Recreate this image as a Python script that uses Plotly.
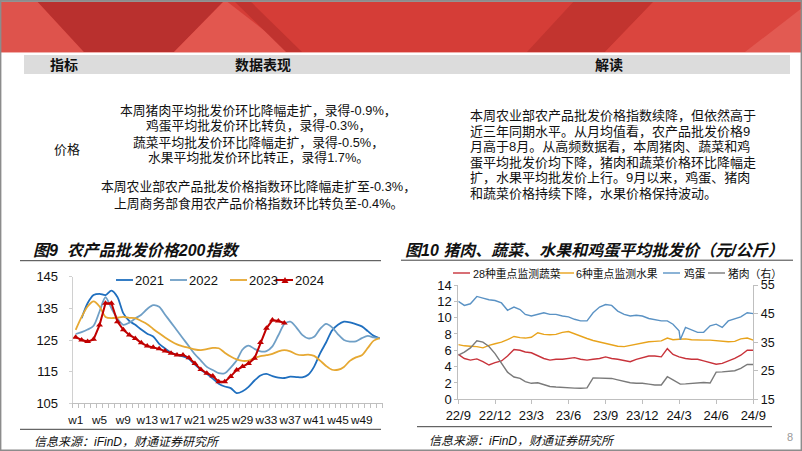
import plotly.graph_objects as go

W, H = 802, 451
CJK = "Liberation Sans, Noto Sans CJK SC"
ARIAL = "Liberation Sans, Arial, sans-serif"

# ---------------- Chart 9 data: weekly index ----------------
weeks = list(range(1, 53))
week_ticks = [1, 5, 9, 13, 17, 21, 25, 29, 33, 37, 41, 45, 49]
week_labels = ["w1", "w5", "w9", "w13", "w17", "w21", "w25", "w29", "w33", "w37", "w41", "w45", "w49"]
idx_2021 = [None, 131.9, 136.6, 139.2, 139.6, 139.2, 140.6, 138.6, 133.4, 131.0,
            129.8, 128.3, 127.0, 126.1, 123.8, 122.3, 121.0, 120.3, 119.8, 119.0,
            117.2, 115.6, 114.3, 112.8, 111.2, 110.3, 109.8, 108.2, 108.8, 110.2,
            112.2, 113.8, 114.3, 113.6, 113.1, 113.0, 113.4, 113.3, 113.2, 114.0,
            116.6, 120.8, 124.2, 128.0, 129.8, 130.8, 130.6, 130.0, 129.3, 127.8,
            126.3, 125.5]
idx_2022 = [126.9, 127.5, 128.3, 129.5, 134.0, 138.5, 135.0, 131.8, 129.8, 130.5,
            131.8, 133.0, 134.8, 136.0, 135.5, 133.0, 130.5, 128.0, 125.5, 123.0,
            120.5, 118.5, 116.5, 115.5, 114.5, 114.5, 116.3, 118.5, 122.0, 123.2,
            122.2, 121.4, 121.5, 123.0, 126.5, 130.0, 130.8, 129.0, 126.6, 125.5,
            126.0, 128.5, 130.1, 129.0, 126.8, 125.0, 124.5, 124.6, 125.6, 126.3,
            125.8, 125.5]
idx_2023 = [128.2, 132.3, 135.6, 137.2, 135.6, 132.3, 131.9, 132.1, 132.3, 132.0,
            131.9, 131.0, 130.0, 128.5, 127.1, 125.8, 124.6, 123.6, 123.0, 122.5,
            122.0, 121.8, 122.1, 122.5, 122.4, 121.0, 119.8, 118.9, 118.4, 118.5,
            119.3, 119.9, 120.2, 120.6, 121.4, 121.8, 121.4, 120.5, 120.2, 120.4,
            120.0, 118.5, 116.8, 115.6, 115.6, 116.5, 118.4, 119.5, 120.2, 122.5,
            124.8, 125.6]
idx_2024 = [125.9, 125.0, 124.5, 125.2, 129.7, 136.6, 136.6, 130.8, 128.2, 126.6,
            125.5, 124.1, 123.1, 122.7, 122.2, 121.5, 120.8, 120.3, 120.3, 119.4,
            117.6, 115.7, 114.5, 113.6, 111.8, 111.8, 113.5, 115.5, 116.6, 117.6,
            119.2, 124.2, 128.7, 131.3, 131.0, 130.4]
idx_ticks = [105, 115, 125, 135, 145]

# ---------------- Chart 10 data: average wholesale prices ----------------
dates = ["2022-09-20", "2022-10-05", "2022-10-20", "2022-11-05", "2022-11-20",
         "2022-12-05", "2022-12-20", "2023-01-05", "2023-01-20", "2023-02-05",
         "2023-02-20", "2023-03-05", "2023-03-20", "2023-04-05", "2023-04-20",
         "2023-05-05", "2023-05-20", "2023-06-05", "2023-06-20", "2023-07-05",
         "2023-07-20", "2023-08-05", "2023-08-20", "2023-09-05", "2023-09-20",
         "2023-10-05", "2023-10-20", "2023-11-05", "2023-11-20", "2023-12-05",
         "2023-12-20", "2024-01-05", "2024-01-20", "2024-02-05", "2024-02-20",
         "2024-03-05", "2024-03-20", "2024-03-23", "2024-04-05", "2024-04-20",
         "2024-05-05", "2024-05-20", "2024-06-05", "2024-06-20", "2024-07-05",
         "2024-07-20", "2024-08-05", "2024-08-20", "2024-09-05", "2024-09-20"]
veg = [5.5, 5.0, 4.8, 4.95, 4.6, 4.2, 4.5, 4.7, 5.3, 6.1,
       6.0, 5.8, 5.7, 5.3, 5.0, 4.8, 4.9, 4.9, 5.0, 5.1,
       4.9, 4.8, 4.9, 5.0, 5.2, 5.0, 4.9, 4.7, 4.6, 4.9,
       5.1, 5.3, 5.3, 5.2, 6.2, 5.5, 5.2, 5.15, 5.0, 4.9,
       4.9, 4.7, 4.5, 4.3, 4.4, 4.7, 5.0, 5.4, 6.0, 6.0]
fruit = [6.7, 6.55, 6.5, 6.45, 6.3, 6.6, 6.8, 7.0, 7.3, 7.7,
         7.55, 7.5, 7.6, 8.15, 7.95, 7.9, 7.95, 8.2, 8.3, 8.0,
         7.7, 7.45, 7.2, 7.0, 6.8, 6.6, 6.5, 6.45, 6.6, 6.75,
         6.9, 7.05, 7.1, 7.15, 7.5, 7.3, 7.35, 7.35, 7.4, 7.3,
         7.25, 7.25, 7.25, 7.2, 7.15, 7.05, 7.1, 7.4, 7.5, 7.25]
egg = [12.0, 11.5, 11.7, 12.6, 12.4, 12.2, 12.1, 11.8, 10.9, 11.3,
       11.0, 10.4, 10.2, 10.4, 10.6, 10.4, 10.4, 10.2, 10.1, 9.8,
       9.6, 9.6, 10.6, 11.3, 11.6, 11.5, 10.8, 10.4, 10.2, 10.3,
       10.2, 9.9, 9.8, 9.6, 9.6, 9.2, 8.4, 7.3, 8.8, 8.5,
       8.2, 8.2, 9.0, 9.2, 8.8, 9.6, 9.9, 10.1, 10.6, 10.5]
pork = [30.5, 31.5, 33.0, 35.5, 35.0, 33.5, 31.0, 27.5, 24.5, 22.8,
        22.3, 21.2, 20.6, 20.8, 20.2, 19.5, 19.3, 19.1, 19.1, 18.9,
        18.85, 19.0, 22.5, 22.5, 22.4, 22.3, 21.8, 21.2, 20.8, 20.6,
        20.6, 20.3, 20.0, 20.0, 22.9, 21.8, 20.3, 20.3, 20.4, 20.6,
        20.8, 20.9, 20.7, 24.5, 24.6, 24.8, 25.0, 25.8, 27.2, 27.2]
quarter_ticks = ["2022-09-20", "2022-12-20", "2023-03-20", "2023-06-20", "2023-09-20",
                 "2023-12-20", "2024-03-20", "2024-06-20", "2024-09-20"]
quarter_labels = ["22/9", "22/12", "23/3", "23/6", "23/9", "23/12", "24/3", "24/6", "24/9"]

C2021, C2022, C2023, C2024 = "#1f6fbf", "#6f9fc6", "#e6a832", "#c00000"
CVEG, CFRUIT, CEGG, CPORK = "#c8323a", "#e8a31c", "#5a92c4", "#7a7a7a"


def px(x):
    return x / W


def py(y):
    return 1 - y / H


fig = go.Figure()

# chart 9 traces
for ys, col in [(idx_2021, C2021), (idx_2022, C2022), (idx_2023, C2023)]:
    fig.add_trace(go.Scatter(x=weeks, y=ys, mode="lines", xaxis="x", yaxis="y",
                             line=dict(color=col, width=1.8, shape="spline", smoothing=0.8),
                             connectgaps=False, hoverinfo="skip"))
fig.add_trace(go.Scatter(x=weeks[:len(idx_2024)], y=idx_2024, mode="lines+markers", xaxis="x", yaxis="y",
                         line=dict(color=C2024, width=2),
                         marker=dict(symbol="triangle-up", size=6, color=C2024), hoverinfo="skip"))

# chart 10 traces
fig.add_trace(go.Scatter(x=dates, y=veg, mode="lines", xaxis="x2", yaxis="y2",
                         line=dict(color=CVEG, width=1.4), hoverinfo="skip"))
fig.add_trace(go.Scatter(x=dates, y=fruit, mode="lines", xaxis="x2", yaxis="y2",
                         line=dict(color=CFRUIT, width=1.4), hoverinfo="skip"))
fig.add_trace(go.Scatter(x=dates, y=egg, mode="lines", xaxis="x2", yaxis="y2",
                         line=dict(color=CEGG, width=1.4), hoverinfo="skip"))
fig.add_trace(go.Scatter(x=dates, y=pork, mode="lines", xaxis="x2", yaxis="y3",
                         line=dict(color=CPORK, width=1.4), hoverinfo="skip"))

tickfont = dict(family=ARIAL, size=13, color="#111")
AXC = "#bfbfbf"

fig.update_layout(
    width=W, height=H, margin=dict(l=0, r=0, t=0, b=0, pad=0, autoexpand=False),
    paper_bgcolor="white", plot_bgcolor="rgba(0,0,0,0)", showlegend=False,
    xaxis=dict(domain=[px(72.7), px(382.7)], anchor="y", range=[0.5, 52.5], automargin=False,
               tickmode="array", tickvals=week_ticks, ticktext=week_labels, tickangle=0,
               showline=True, linecolor=AXC, linewidth=1, ticks="", showgrid=False, zeroline=False,
               tickfont=dict(family=ARIAL, size=11.8, color="#111"), ticklabelstandoff=6,
               minor=dict(ticks="outside", ticklen=4, tickcolor=AXC, tickmode="linear", tick0=0.5, dtick=1,
                          showgrid=False)),
    yaxis=dict(domain=[py(403.3), py(276.7)], anchor="x", range=[105, 145], automargin=False,
               tickmode="array", tickvals=idx_ticks,
               showline=True, linecolor="#d0d0d0", ticks="outside", ticklen=3, tickcolor="#d0d0d0",
               showgrid=False, zeroline=False, tickfont=tickfont, ticklabelstandoff=8),
    xaxis2=dict(domain=[px(458.3), px(753.3)], anchor="y2", type="date", automargin=False,
                range=[dates[0], dates[-1]], tickmode="array", tickvals=quarter_ticks, ticktext=quarter_labels,
                tickangle=0, showline=True, linecolor=AXC, ticks="outside", ticklen=4, tickcolor=AXC,
                showgrid=False, zeroline=False, tickfont=tickfont),
    yaxis2=dict(domain=[py(399.3), py(285)], anchor="x2", range=[0, 14], tick0=0, dtick=2, automargin=False,
                showline=True, linecolor=AXC, ticks="outside", ticklen=3, tickcolor=AXC,
                showgrid=False, zeroline=False, tickfont=tickfont),
    yaxis3=dict(overlaying="y2", side="right", anchor="x2", range=[15, 55], tick0=15, dtick=10,
                automargin=False, showline=True, linecolor=AXC, ticks="outside", ticklen=4, tickcolor=AXC,
                showgrid=False, zeroline=False, tickfont=dict(family=ARIAL, size=12.5, color="#111")),
)

shapes = []


def poly(points, color):
    path = "M " + " L ".join(f"{px(x):.5f},{py(y):.5f}" for x, y in points) + " Z"
    shapes.append(dict(type="path", xref="paper", yref="paper", path=path,
                       fillcolor=color, line=dict(width=0), layer="below"))


def hline(x0, x1, y, color, width=1):
    shapes.append(dict(type="line", xref="paper", yref="paper", x0=px(x0), x1=px(x1), y0=py(y), y1=py(y),
                       line=dict(color=color, width=width), layer="above"))


# red banner
poly([(0, 0), (802, 0), (802, 52), (0, 52)], "#d53d37")
poly([(0, 0), (36, 0), (84, 52), (0, 52)], "#de534c")
poly([(36, 0), (225, 0), (174, 52), (84, 52)], "#b9302e")
poly([(174, 52), (225, 0), (292, 52)], "#e2574f")
poly([(233, 0), (249, 0), (302, 52), (286, 52)], "#c0332f")
poly([(575, 0), (655, 0), (605, 52), (527, 52)], "#c2342f")
poly([(655, 0), (802, 0), (802, 52), (605, 52)], "#da453e")
poly([(745, 52), (802, 8), (802, 52)], "#e25a52")
poly([(0, 0), (802, 0), (802, 2), (0, 2)], "#9a9a9a")
hline(0, 802, 52.5, "#f2b0ac", 1)

# table header bar
poly([(24, 55), (790, 55), (790, 74), (24, 74)], "#dcdcdc")

# chart title / source rules
hline(20, 381, 260.7, "#404040", 1)
hline(20, 381, 429.3, "#404040", 1)
hline(401, 793, 260.2, "#404040", 1)
hline(417, 772, 426.7, "#404040", 1)

# custom legends (chart 9)
for x0, col in [(116, C2021), (170, C2022), (230, C2023), (276, C2024)]:
    hline(x0, x0 + 17, 280, col, 1.8 if col != C2024 else 2)
poly([(281.5, 283), (288.5, 283), (285, 277)], C2024)
# custom legends (chart 10)
LEG2_Y = 273
for x0, col in [(453, CVEG), (557, CFRUIT), (663, CEGG), (708, CPORK)]:
    hline(x0, x0 + 17, LEG2_Y, col, 1.4)

# page frame
shapes.append(dict(type="rect", xref="paper", yref="paper", x0=px(0.7), x1=px(801.3), y0=py(450.3), y1=py(0.7),
                   line=dict(color="#8c8c8c", width=1.4), fillcolor="rgba(0,0,0,0)", layer="above"))

fig.update_layout(shapes=shapes)


def text(x, y, s, size, xanchor="left", weight="normal", style="normal", color="#111", family=CJK):
    fig.add_annotation(x=px(x), y=py(y), xref="paper", yref="paper", text=s, showarrow=False,
                       xanchor=xanchor, yanchor="middle", borderpad=0,
                       font=dict(family=family, size=size, color=color, weight=weight, style=style))


# table header
text(64, 65, "指标", 14, "center", weight="bold")
text(263, 65, "数据表现", 14, "center", weight="bold")
text(609, 65, "解读", 14, "center", weight="bold")

# left body
text(67, 150, "价格", 13, "center")
left_lines = [("本周猪肉平均批发价环比降幅走扩，录得-0.9%，", 110),
              ("鸡蛋平均批发价环比转负，录得-0.3%，", 126),
              ("蔬菜平均批发价环比降幅走扩，录得-0.5%，", 142),
              ("水果平均批发价环比转正，录得1.7%。", 157.5),
              ("本周农业部农产品批发价格指数环比降幅走扩至-0.3%，", 186.5),
              ("上周商务部食用农产品价格指数环比转负至-0.4%。", 203)]
for s, y in left_lines:
    text(258, y, s, 12.8, "center")

right_lines = [("本周农业部农产品批发价格指数续降，但依然高于", 115.7),
               ("近三年同期水平。从月均值看，农产品批发价格9", 131.3),
               ("月高于8月。从高频数据看，本周猪肉、蔬菜和鸡", 146.8),
               ("蛋平均批发价均下降，猪肉和蔬菜价格环比降幅走", 162.3),
               ("扩，水果平均批发价上行。9月以来，鸡蛋、猪肉", 177.8),
               ("和蔬菜价格持续下降，水果价格保持波动。", 193.3)]
for s, y in right_lines:
    text(469, y, s, 13, "left")

# chart titles
text(32, 250.5, "图9  农产品批发价格200指数", 16, "left", weight="bold", style="italic")
text(404, 250.5, "图10 猪肉、蔬菜、水果和鸡蛋平均批发价（元/公斤）", 16, "left", weight="bold", style="italic")

# chart 9 legend text
for x0, s in [(134, "2021"), (188, "2022"), (248, "2023"), (294, "2024")]:
    text(x0, 280, s, 13, "left", family=ARIAL)
# chart 10 legend text
for x0, s in [(472, "28种重点监测蔬菜"), (575, "6种重点监测水果"), (683, "鸡蛋"), (727, "猪肉（右）")]:
    text(x0, LEG2_Y, s, 10.8, "left")

# sources
text(33, 441.5, "信息来源：iFinD，财通证券研究所", 12, "left", style="italic")
text(428, 440.5, "信息来源：iFinD，财通证券研究所", 12, "left", style="italic")
text(790, 437, "8", 11, "center", color="#9a9a9a", family=ARIAL)

fig.write_html("out.html", config=dict(displayModeBar=False, staticPlot=True),
               post_script="}); document.body.style.margin='0'; document.body.style.overflow='hidden'; (function(){")
